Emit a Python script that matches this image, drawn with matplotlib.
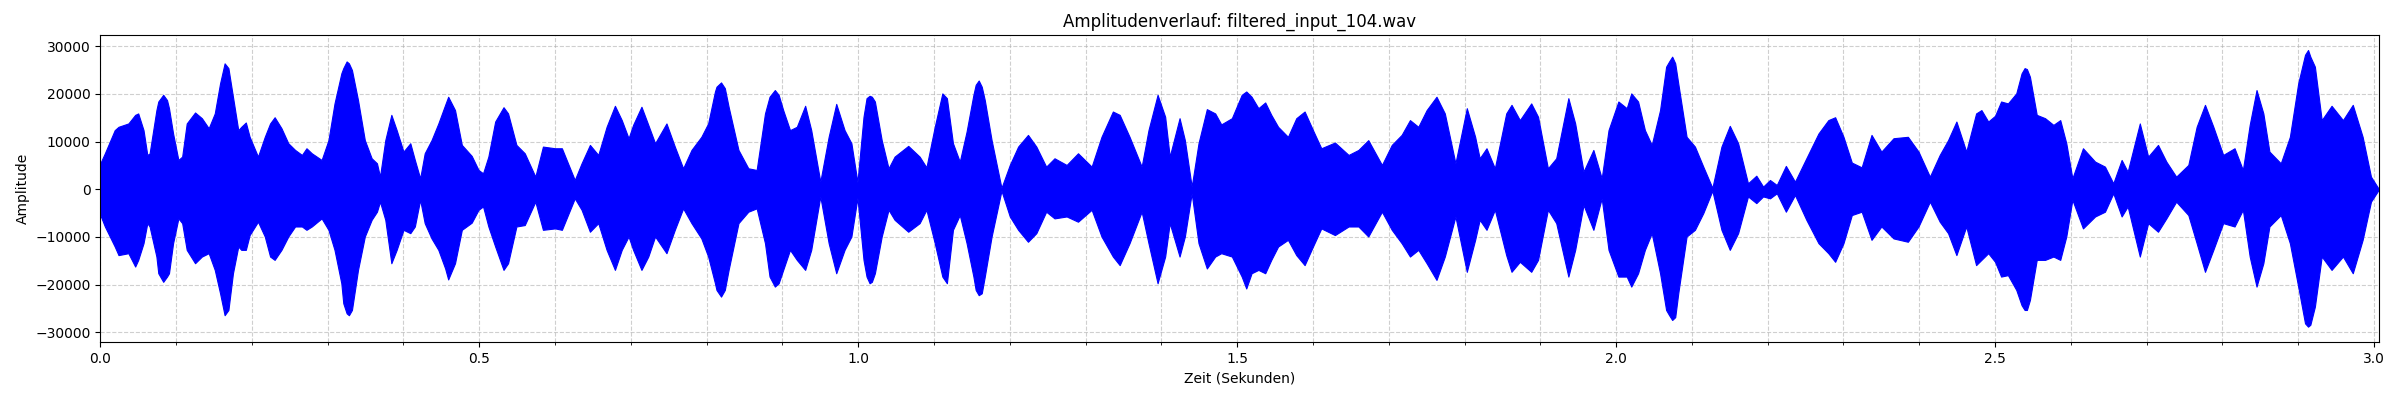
import numpy as np
import matplotlib
matplotlib.use('Agg')
import matplotlib.pyplot as plt
from matplotlib.ticker import MultipleLocator

fname = 'filtered_input_104.wav'
duration = 3.0066

# envelope of the waveform (time in s, amplitude)
t = [0.000, 0.006, 0.019, 0.024, 0.037, 0.046, 0.050, 0.057, 0.062, 0.065,
     0.074, 0.083, 0.088, 0.096, 0.103, 0.108, 0.114, 0.125, 0.134, 0.143,
     0.151, 0.158, 0.164, 0.169, 0.175, 0.182, 0.186, 0.192, 0.197, 0.208,
     0.217, 0.224, 0.230, 0.239, 0.248, 0.257, 0.266, 0.272, 0.279, 0.292,
     0.301, 0.309, 0.318, 0.325, 0.332, 0.340, 0.349, 0.358, 0.365, 0.369,
     0.376, 0.384, 0.391, 0.400, 0.409, 0.415, 0.422, 0.428, 0.437, 0.446,
     0.455, 0.459, 0.468, 0.477, 0.490, 0.499, 0.505, 0.512, 0.521, 0.532,
     0.538, 0.549, 0.560, 0.574, 0.584, 0.600, 0.609, 0.626, 0.635, 0.646,
     0.657, 0.668, 0.679, 0.688, 0.697, 0.703, 0.714, 0.723, 0.732, 0.747,
     0.758, 0.769, 0.780, 0.793, 0.802, 0.811, 0.819, 0.829, 0.842, 0.855,
     0.866, 0.877, 0.890, 0.901, 0.910, 0.919, 0.930, 0.938, 0.950, 0.961,
     0.971, 0.982, 0.991, 0.999, 1.007, 1.015, 1.022, 1.031, 1.040, 1.048,
     1.066, 1.081, 1.090, 1.101, 1.111, 1.117, 1.125, 1.134, 1.143, 1.152,
     1.159, 1.167, 1.176, 1.189, 1.200, 1.211, 1.224, 1.235, 1.248, 1.259,
     1.275, 1.290, 1.308, 1.321, 1.336, 1.345, 1.358, 1.374, 1.383, 1.395,
     1.405, 1.411, 1.424, 1.431, 1.440, 1.449, 1.460, 1.471, 1.479, 1.493,
     1.506, 1.512, 1.519, 1.528, 1.537, 1.545, 1.554, 1.567, 1.578, 1.589,
     1.600, 1.611, 1.629, 1.647, 1.660, 1.673, 1.691, 1.704, 1.717, 1.728,
     1.739, 1.750, 1.763, 1.774, 1.788, 1.803, 1.814, 1.820, 1.829, 1.840,
     1.855, 1.862, 1.873, 1.888, 1.897, 1.910, 1.921, 1.937, 1.946, 1.957,
     1.970, 1.981, 1.990, 2.003, 2.014, 2.020, 2.029, 2.038, 2.047, 2.058,
     2.066, 2.074, 2.082, 2.093, 2.104, 2.115, 2.127, 2.139, 2.150, 2.161,
     2.174, 2.185, 2.194, 2.203, 2.212, 2.224, 2.236, 2.251, 2.267, 2.280,
     2.289, 2.300, 2.311, 2.324, 2.337, 2.350, 2.366, 2.385, 2.399, 2.414,
     2.427, 2.438, 2.449, 2.462, 2.475, 2.482, 2.491, 2.500, 2.508, 2.517,
     2.528, 2.539, 2.546, 2.555, 2.566, 2.577, 2.586, 2.594, 2.602, 2.616,
     2.632, 2.645, 2.656, 2.667, 2.675, 2.691, 2.702, 2.715, 2.726, 2.739,
     2.755, 2.766, 2.777, 2.788, 2.801, 2.816, 2.827, 2.836, 2.845, 2.854,
     2.862, 2.877, 2.889, 2.900, 2.913, 2.922, 2.931, 2.944, 2.959, 2.972,
     2.985, 2.996, 3.0066]

upper = [5450, 7550, 12400, 13100, 13800, 15600, 15900, 12400, 7200, 7500,
         16600, 19800, 18700, 11700, 6150, 6850, 13800, 16100, 14900, 12800,
         15900, 22200, 26400, 25400, 19400, 12400, 13100, 14000, 11000, 6850,
         11000, 13800, 15100, 12800, 9650, 8250, 7200, 8600, 7550, 6150,
         10300, 18000, 24300, 26800, 25000, 18700, 10300, 6500, 5450, 2650,
         10300, 15600, 12400, 7900, 9650, 6150, 2300, 7550, 10300, 13800,
         17700, 19400, 16600, 9300, 7000, 4050, 3350, 6850, 14200, 17200,
         15900, 9300, 7550, 2650, 8950, 8600, 8600, 1950, 5450, 9300,
         7200, 13100, 17500, 14500, 10700, 13500, 17300, 13500, 9650, 13800,
         8950, 4400, 8250, 11000, 13800, 20500, 22400, 17300, 8250, 4400,
         4050, 15900, 20800, 16600, 12400, 13100, 17500, 12400, 1600, 11000,
         17900, 12400, 9650, 1500, 15200, 19600, 18400, 10300, 4400, 6850,
         9100, 6850, 4600, 13100, 20100, 19100, 9650, 5800, 12100, 19800,
         22800, 18700, 10300, 300, 5100, 8950, 11400, 8950, 4750, 6500,
         5100, 7550, 4750, 11000, 16300, 15600, 11000, 4750, 12400, 19800,
         15200, 6850, 14900, 10300, 560, 9650, 16800, 15900, 13600, 14900,
         19800, 20500, 19400, 17000, 18200, 15600, 13100, 11000, 14900, 16300,
         12400, 8600, 9800, 7200, 8250, 10300, 5100, 9300, 11400, 14500,
         13100, 16600, 19400, 15900, 5450, 17000, 11000, 6500, 8600, 4400,
         15900, 17700, 14500, 18000, 15200, 4400, 6500, 19100, 13800, 3700,
         8250, 2300, 12400, 18400, 17000, 20100, 18400, 12400, 9300, 16600,
         25700, 27800, 22200, 11000, 8950, 4750, 300, 8950, 13300, 9650,
         1250, 2850, 560, 1950, 900, 4900, 1600, 6500, 11700, 14500,
         15100, 11000, 5600, 4600, 11400, 7900, 10700, 11000, 7900, 2650,
         7200, 10300, 14200, 7900, 15900, 16600, 14200, 15400, 18400, 18000,
         20100, 25400, 23600, 15600, 14900, 13500, 14500, 9650, 2300, 8600,
         5800, 4750, 1250, 6150, 3700, 13800, 6850, 9300, 5800, 2650,
         5100, 13100, 17700, 13100, 7200, 8600, 4050, 13500, 20800, 15900,
         7900, 5450, 11000, 22200, 29200, 25700, 14500, 17500, 14500, 17700,
         11000, 2650, 0]

lower = [-5400, -7800, -12000, -13800, -13400, -16200, -14800, -11300, -7100, -7800,
         -14100, -19400, -18300, -11300, -6100, -7100, -12700, -15500, -14100, -13400,
         -16900, -21800, -26400, -25300, -17600, -12000, -12700, -12700, -9600, -6800,
         -9900, -14100, -14800, -12700, -9900, -7800, -7800, -8500, -7800, -6100,
         -8500, -12700, -19700, -26000, -25300, -16900, -9900, -6400, -4700, -2600,
         -6400, -15500, -12700, -8500, -9200, -7800, -2200, -7100, -10300, -12700,
         -16600, -18900, -15500, -8500, -7000, -4300, -3600, -7800, -12000, -16900,
         -15500, -7800, -7500, -2600, -8500, -8200, -8500, -1900, -4300, -8900,
         -7100, -12700, -16900, -12700, -9900, -12700, -16900, -14100, -9900, -13400,
         -8500, -4000, -7100, -10300, -14100, -19700, -22500, -16900, -7100, -4700,
         -4000, -11300, -20400, -16900, -12700, -14800, -16900, -12700, -1500, -11300,
         -17600, -12700, -9900, -1800, -14800, -19700, -17600, -9900, -4300, -6400,
         -8900, -7100, -4300, -11300, -18300, -19700, -8500, -5400, -11300, -18300,
         -22200, -18300, -9900, -300, -5700, -8500, -11000, -9200, -4700, -6100,
         -5700, -6800, -4300, -9900, -14100, -15900, -11300, -4700, -11300, -19700,
         -14100, -7100, -14100, -9900, -840, -11300, -16600, -14100, -13400, -14100,
         -18300, -20800, -17600, -16900, -17600, -14800, -12000, -10600, -13800, -15900,
         -12000, -8200, -9600, -7800, -7800, -9900, -4700, -8500, -11300, -14100,
         -12700, -15500, -19000, -14100, -5700, -17300, -10600, -6400, -8500, -4300,
         -13800, -17300, -15200, -17300, -14800, -4300, -7100, -18300, -12700, -3300,
         -8500, -1900, -12700, -18300, -18300, -20400, -17600, -12700, -9200, -17600,
         -25300, -27400, -21800, -9900, -8500, -5000, -300, -8500, -12700, -9200,
         -1500, -2900, -1500, -1900, -840, -4700, -1200, -6400, -11300, -13400,
         -15200, -11300, -5400, -4700, -10600, -7800, -10300, -11000, -7800, -2600,
         -6800, -9200, -13800, -7800, -15900, -14800, -13400, -15200, -18300, -18000,
         -21100, -25300, -23200, -14800, -14800, -14100, -14800, -9900, -2200, -8200,
         -5700, -4700, -840, -5700, -3600, -14100, -7100, -8900, -6100, -2600,
         -5400, -11300, -17300, -12700, -7100, -7800, -4300, -14100, -20400, -15500,
         -7800, -5400, -11300, -20400, -28800, -24600, -14100, -16900, -14100, -17600,
         -10600, -2600, 0]

# extra readings on the shoulders of the tallest bursts
t_extra = [0.0765, 0.0906, 0.3206, 0.328, 0.813, 0.824, 0.883, 0.895, 1.011,
           1.018, 1.155, 1.163, 2.070, 2.078, 2.535, 2.542, 2.909, 2.916]
upper_extra = [18400, 17000, 25400, 26400, 21500, 21200, 19400, 19800, 19100,
               19400, 21900, 21500, 26800, 26400, 24300, 25200, 28200, 27800]
lower_extra = [-17600, -17600, -23900, -26400, -21100, -21100, -18300, -19700, -18300,
               -19400, -21100, -21800, -26400, -26800, -24300, -25300, -28100, -28400]

tt = np.array(t + t_extra)
order = np.argsort(tt)
tt = tt[order]
up = np.array(upper + upper_extra)[order]
lo = np.array(lower + lower_extra)[order]

fig, ax = plt.subplots(figsize=(24, 4), dpi=100)
ax.fill_between(tt, lo, up, color='blue', linewidth=0.8, edgecolor='blue', zorder=2)

ax.set_title(f'Amplitudenverlauf: {fname}', fontsize=12)
ax.set_xlabel('Zeit (Sekunden)')
ax.set_ylabel('Amplitude')
ax.set_xlim(0, duration)
ax.set_ylim(-32070, 32340)
ax.xaxis.set_major_locator(MultipleLocator(0.5))
ax.xaxis.set_minor_locator(MultipleLocator(0.1))
ax.grid(True, which='both', linestyle='--', alpha=0.6)

plt.subplots_adjust(left=0.0418, right=0.99125, bottom=0.1443, top=0.9125)
plt.savefig('out.png')
